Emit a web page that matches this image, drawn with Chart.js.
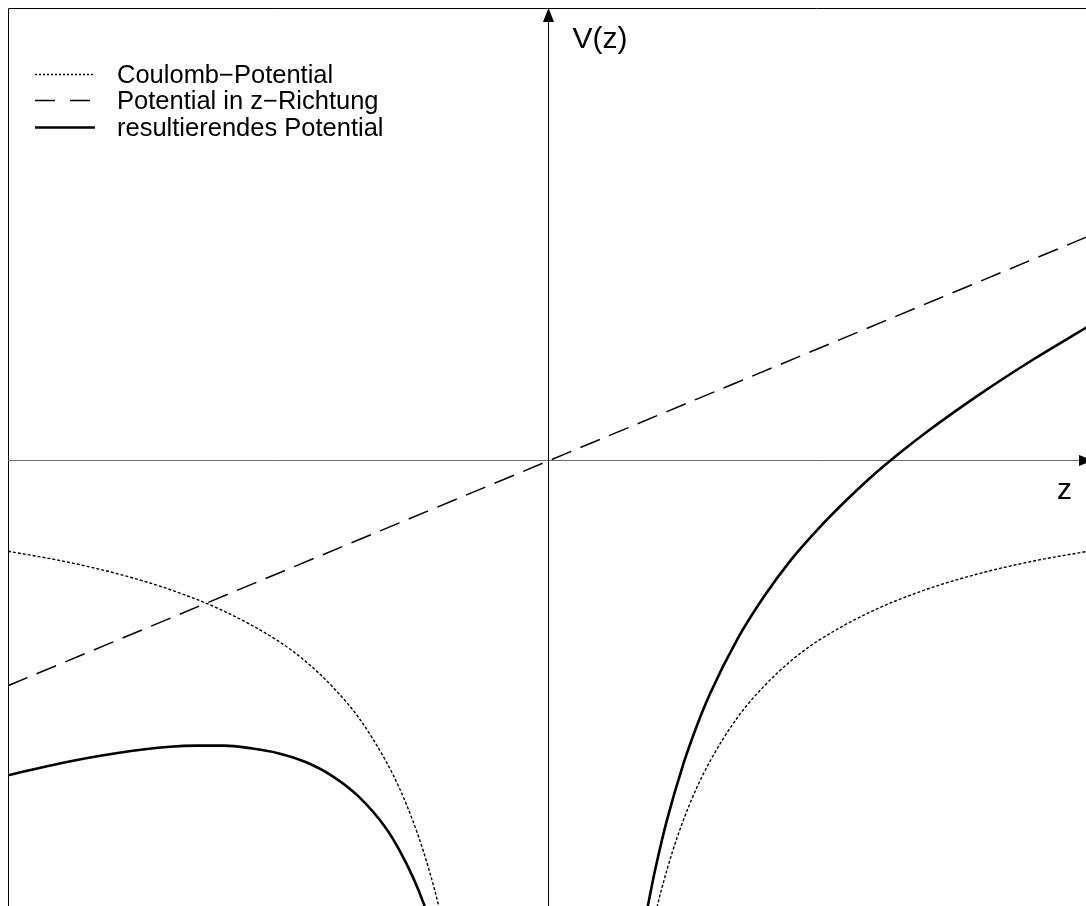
<!DOCTYPE html>
<html>
<head>
<meta charset="utf-8">
<title>V(z)</title>
<script src="https://cdn.jsdelivr.net/npm/chart.js@4"></script>
<style>
    html, body { margin: 0; padding: 0; background: #fff; overflow: hidden; }
    canvas { display: block; }
</style>
</head>
<body>
<canvas id="chart" width="1086" height="906"></canvas>
<script>
// values (z, V in arbitrary units)
var fieldZ = [-10, 10];
var fieldV = [-4.16, 4.16];

var coulombLeftZ = [-10, -9, -8, -7, -6, -5, -4.5, -4, -3.5, -3, -2.75, -2.5, -2.3, -2.1, -2.0, -1.9, -1.8];
var coulombLeftV = [-1.67, -1.85, -2.08, -2.38, -2.78, -3.33, -3.70, -4.17, -4.76, -5.56, -6.06, -6.67, -7.25, -7.94, -8.34, -8.77, -9.26];
var coulombRightZ = [1.8, 1.9, 2.0, 2.1, 2.3, 2.5, 2.75, 3, 3.5, 4, 4.5, 5, 6, 7, 8, 9, 10];
var coulombRightV = [-9.26, -8.77, -8.34, -7.94, -7.25, -6.67, -6.06, -5.56, -4.76, -4.17, -3.70, -3.33, -2.78, -2.38, -2.08, -1.85, -1.67];

var resultLeftZ = [-10, -9, -8, -7, -6.5, -6, -5.5, -5, -4.5, -4, -3.5, -3, -2.75, -2.5, -2.3, -2.1, -2.0];
var resultLeftV = [-5.82, -5.59, -5.41, -5.29, -5.27, -5.27, -5.32, -5.41, -5.57, -5.83, -6.22, -6.80, -7.21, -7.71, -8.20, -8.81, -9.17];
var resultRightZ = [1.7, 1.8, 1.9, 2.0, 2.2, 2.5, 2.75, 3, 3.5, 4, 4.5, 5, 5.5, 6, 6.5, 7, 8, 9, 10];
var resultRightV = [-9.10, -8.51, -7.98, -7.50, -6.66, -5.63, -4.92, -4.31, -3.31, -2.51, -1.83, -1.26, -0.75, -0.28, 0.14, 0.53, 1.24, 1.89, 2.49];

var labels = ['Coulomb\u2212Potential', 'Potential in z\u2212Richtung', 'resultierendes Potential'];

var FONT = '"Liberation Sans", Arial, Helvetica, sans-serif';

function points(zs, vs) {
    return zs.map(function (z, i) { return { x: z, y: vs[i] }; });
}

// two branches joined by a gap at z = 0
function branches(lz, lv, rz, rv) {
    return points(lz, lv).concat([{ x: 0, y: null }], points(rz, rv));
}

var axesPlugin = {
    id: 'axes',
    beforeDatasetsDraw: function (chart) {
        var ctx = chart.ctx;
        var area = chart.chartArea;
        var x0 = Math.round(chart.scales.x.getPixelForValue(0));
        var y0 = Math.round(chart.scales.y.getPixelForValue(0));

        ctx.save();
        // frame (left and top)
        ctx.strokeStyle = '#000';
        ctx.lineWidth = 1;
        ctx.beginPath();
        ctx.moveTo(area.left + 0.5, area.bottom);
        ctx.lineTo(area.left + 0.5, area.top + 0.5);
        ctx.lineTo(area.right, area.top + 0.5);
        ctx.stroke();

        // z axis
        ctx.strokeStyle = '#6e6e6e';
        ctx.beginPath();
        ctx.moveTo(area.left, y0 - 0.5);
        ctx.lineTo(area.right, y0 - 0.5);
        ctx.stroke();

        // V axis
        ctx.strokeStyle = '#000';
        ctx.beginPath();
        ctx.moveTo(x0 + 0.5, area.bottom);
        ctx.lineTo(x0 + 0.5, area.top + 10);
        ctx.stroke();
        ctx.restore();
    },
    afterDraw: function (chart) {
        var ctx = chart.ctx;
        var area = chart.chartArea;
        var x0 = Math.round(chart.scales.x.getPixelForValue(0)) + 0.5;
        var y0 = Math.round(chart.scales.y.getPixelForValue(0)) - 0.5;

        ctx.save();
        ctx.fillStyle = '#000';

        // arrow heads
        ctx.beginPath();
        ctx.moveTo(x0, area.top);
        ctx.lineTo(x0 - 5.5, area.top + 14);
        ctx.lineTo(x0 + 5.5, area.top + 14);
        ctx.closePath();
        ctx.fill();

        ctx.beginPath();
        ctx.moveTo(area.right + 7, y0);
        ctx.lineTo(area.right - 7, y0 - 5.5);
        ctx.lineTo(area.right - 7, y0 + 5.5);
        ctx.closePath();
        ctx.fill();

        // axis titles
        ctx.font = '30px ' + FONT;
        ctx.textBaseline = 'alphabetic';
        ctx.textAlign = 'left';
        ctx.fillText('V(z)', x0 + 24, 48);
        ctx.fillText('z', 1057, 499);

        // legend
        var rows = [74, 100, 127];
        var dashes = [[2, 2], [20, 15], []];
        ctx.font = '25.5px ' + FONT;
        chart.data.datasets.forEach(function (ds, i) {
            var y = rows[i] + 0.5;
            ctx.strokeStyle = '#000';
            ctx.lineWidth = ds.borderWidth;
            ctx.setLineDash(dashes[i]);
            ctx.beginPath();
            ctx.moveTo(35, y);
            ctx.lineTo(95, y);
            ctx.stroke();
            ctx.setLineDash([]);
            ctx.fillText(ds.label, 117, rows[i] + 9);
        });
        ctx.restore();
    }
};

var ctx = document.getElementById('chart').getContext('2d');

var chart = new Chart(ctx, {
    type: 'scatter',
    data: {
        datasets: [{
            label: labels[0],
            data: branches(coulombLeftZ, coulombLeftV, coulombRightZ, coulombRightV),
            borderColor: '#000',
            borderWidth: 1.4,
            borderDash: [3, 2]
        }, {
            label: labels[1],
            data: points(fieldZ, fieldV),
            borderColor: '#000',
            borderWidth: 1.5,
            borderDash: [21, 10]
        }, {
            label: labels[2],
            data: branches(resultLeftZ, resultLeftV, resultRightZ, resultRightV),
            borderColor: '#000',
            borderWidth: 2.6
        }]
    },
    options: {
        responsive: false,
        animation: false,
        layout: { padding: { left: 8, top: 8, right: 0, bottom: 0 } },
        datasets: {
            scatter: {
                showLine: true,
                pointRadius: 0,
                fill: false,
                spanGaps: false,
                cubicInterpolationMode: 'monotone',
                clip: 0
            }
        },
        scales: {
            x: { type: 'linear', min: -10, max: 9.963, display: false },
            y: { type: 'linear', min: -8.24, max: 8.39, display: false }
        },
        plugins: {
            legend: { display: false },
            tooltip: { enabled: false }
        }
    },
    plugins: [axesPlugin]
});
</script>
</body>
</html>
